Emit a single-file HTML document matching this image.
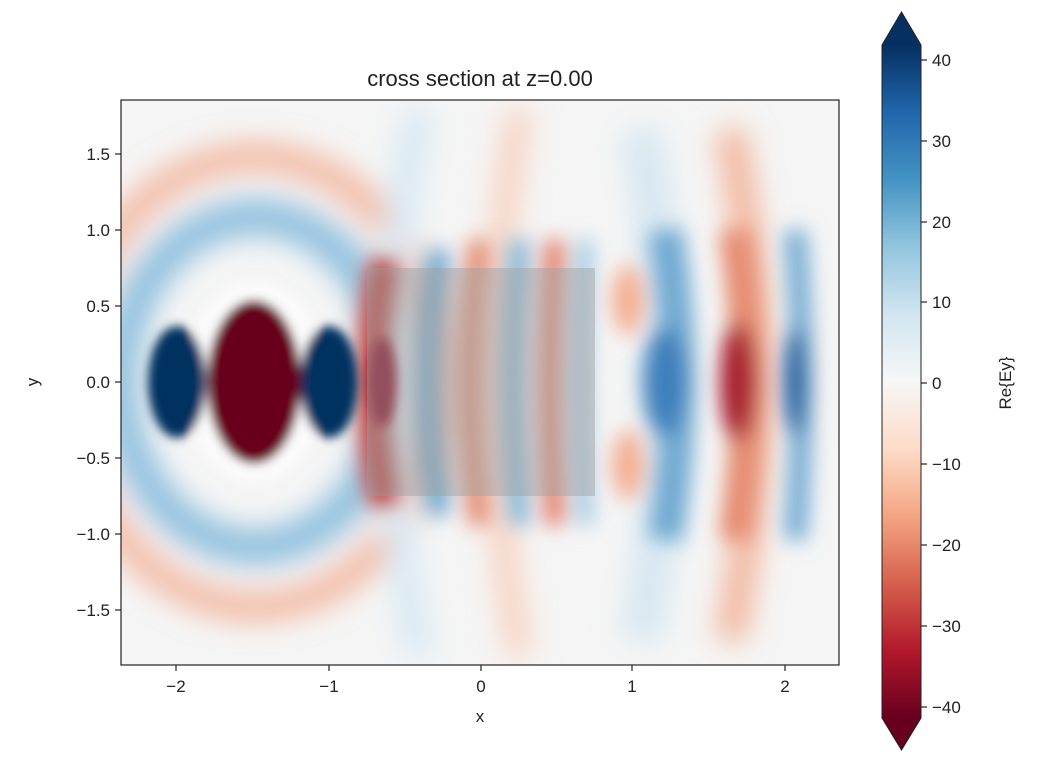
<!DOCTYPE html>
<html><head><meta charset="utf-8"><style>
html,body{margin:0;padding:0;background:#fff;}
svg{display:block;font-family:"Liberation Sans","DejaVu Sans",sans-serif;}
</style></head><body>
<svg width="1040" height="782" viewBox="0 0 1040 782" xmlns="http://www.w3.org/2000/svg">
<defs>
<clipPath id="pc"><rect x="121" y="100" width="718" height="565"/></clipPath>
<filter id="b1" x="-50%" y="-50%" width="200%" height="200%"><feGaussianBlur stdDeviation="5"/></filter>
<filter id="b2" x="-50%" y="-50%" width="200%" height="200%"><feGaussianBlur stdDeviation="10"/></filter>
<filter id="b3" x="-50%" y="-50%" width="200%" height="200%"><feGaussianBlur stdDeviation="14"/></filter>
<linearGradient id="cb" x1="0" y1="1" x2="0" y2="0">
<stop offset="0" stop-color="#67001f"/><stop offset="0.1" stop-color="#b2182b"/><stop offset="0.2" stop-color="#d6604d"/><stop offset="0.3" stop-color="#f4a582"/><stop offset="0.4" stop-color="#fddbc7"/><stop offset="0.5" stop-color="#f7f7f7"/><stop offset="0.6" stop-color="#d1e5f0"/><stop offset="0.7" stop-color="#92c5de"/><stop offset="0.8" stop-color="#4393c3"/><stop offset="0.9" stop-color="#2166ac"/><stop offset="1" stop-color="#053061"/>
</linearGradient>
</defs>
<text x="480" y="86" font-size="22" text-anchor="middle" fill="#222">cross section at z=0.00</text>
<g clip-path="url(#pc)">
<rect x="121" y="100" width="718" height="565" fill="#f5f5f5"/>
<g filter="url(#b3)">
<ellipse cx="255" cy="382" rx="185" ry="225" fill="none" stroke="#f2b096" stroke-width="30" opacity="0.85"/>
<ellipse cx="255" cy="382" rx="135" ry="165" fill="none" stroke="#8fc0de" stroke-width="36"/>
<path d="M420 110 Q360 382 420 655" fill="none" stroke="#d8e9f3" stroke-width="30"/>
<path d="M520 110 Q470 382 520 655" fill="none" stroke="#f8d0bd" stroke-width="25"/>
<path d="M640 130 Q690 382 640 640" fill="none" stroke="#d6e7f1" stroke-width="40"/>
<path d="M730 130 Q780 382 730 640" fill="none" stroke="#f2b49a" stroke-width="30"/>
</g>
<g filter="url(#b2)">
<path d="M385 260 Q360 382 385 505" fill="none" stroke="#c1403a" stroke-width="30"/>
<path d="M440 250 Q415 382 440 515" fill="none" stroke="#6aa8d0" stroke-width="22"/>
<path d="M480 240 Q460 382 480 525" fill="none" stroke="#e08a70" stroke-width="22"/>
<path d="M520 240 Q505 382 520 525" fill="none" stroke="#7fb5d6" stroke-width="20"/>
<path d="M555 240 Q545 382 555 525" fill="none" stroke="#e07b62" stroke-width="20"/>
<path d="M585 240 Q578 382 585 525" fill="none" stroke="#9cc6df" stroke-width="16"/>
<ellipse cx="628" cy="300" rx="16" ry="35" fill="#f4ad92"/>
<ellipse cx="628" cy="465" rx="16" ry="35" fill="#f4ad92"/>
<path d="M665 230 Q690 382 665 540" fill="none" stroke="#6fa9d1" stroke-width="34"/>
<ellipse cx="665" cy="382" rx="22" ry="55" fill="#3d7fbb"/>
<path d="M735 230 Q760 382 735 540" fill="none" stroke="#e58a70" stroke-width="30"/>
<ellipse cx="738" cy="382" rx="18" ry="60" fill="#a51d2d"/>
<path d="M795 230 Q808 382 795 540" fill="none" stroke="#6fa9d1" stroke-width="22"/>
<ellipse cx="795" cy="382" rx="12" ry="55" fill="#225e9e"/>
</g>
<g filter="url(#b1)">
<ellipse cx="255" cy="382" rx="70" ry="100" fill="#fbfbfb"/>
<ellipse cx="177" cy="382" rx="29" ry="56" fill="#053061"/>
<ellipse cx="329" cy="382" rx="29" ry="56" fill="#053061"/>
<ellipse cx="254" cy="382" rx="47" ry="82" fill="#67001f"/>
<ellipse cx="382" cy="382" rx="14" ry="45" fill="#8a0b26"/>
</g>
<rect x="367" y="268" width="228" height="228" fill="#a0a0a0" opacity="0.45"/>
</g>
<rect x="121" y="100" width="718" height="565" fill="none" stroke="#222" stroke-width="1.2"/>
<g stroke="#222" stroke-width="1.2">
<line x1="176" y1="665" x2="176" y2="671"/><line x1="329" y1="665" x2="329" y2="671"/><line x1="481" y1="665" x2="481" y2="671"/><line x1="632" y1="665" x2="632" y2="671"/><line x1="785" y1="665" x2="785" y2="671"/>
<line x1="121" y1="154" x2="115" y2="154"/><line x1="121" y1="230" x2="115" y2="230"/><line x1="121" y1="306" x2="115" y2="306"/><line x1="121" y1="382" x2="115" y2="382"/><line x1="121" y1="458" x2="115" y2="458"/><line x1="121" y1="534" x2="115" y2="534"/><line x1="121" y1="610" x2="115" y2="610"/>
</g>
<g font-size="17" fill="#222" text-anchor="middle">
<text x="176" y="692">−2</text><text x="329" y="692">−1</text><text x="481" y="692">0</text><text x="632" y="692">1</text><text x="785" y="692">2</text>
<text x="480" y="722">x</text>
</g>
<g font-size="17" fill="#222" text-anchor="end">
<text x="110" y="160">1.5</text><text x="110" y="236">1.0</text><text x="110" y="312">0.5</text><text x="110" y="388">0.0</text><text x="110" y="464">−0.5</text><text x="110" y="540">−1.0</text><text x="110" y="616">−1.5</text>
</g>
<text x="38" y="382" font-size="17" fill="#222" text-anchor="middle" transform="rotate(-90 38 382)">y</text>
<rect x="882" y="45" width="39" height="673" fill="url(#cb)"/>
<polygon points="882,45 901.5,12 921,45" fill="#053061"/>
<polygon points="882,718 901.5,750 921,718" fill="#67001f"/>
<polygon points="882,45 901.5,12 921,45 921,718 901.5,750 882,718" fill="none" stroke="#222" stroke-width="1"/>
<g stroke="#222" stroke-width="1.2">
<line x1="921" y1="60" x2="927" y2="60"/><line x1="921" y1="141" x2="927" y2="141"/><line x1="921" y1="222" x2="927" y2="222"/><line x1="921" y1="302" x2="927" y2="302"/><line x1="921" y1="383" x2="927" y2="383"/><line x1="921" y1="464" x2="927" y2="464"/><line x1="921" y1="545" x2="927" y2="545"/><line x1="921" y1="626" x2="927" y2="626"/><line x1="921" y1="707" x2="927" y2="707"/>
</g>
<g font-size="17" fill="#222">
<text x="932" y="66">40</text><text x="932" y="147">30</text><text x="932" y="228">20</text><text x="932" y="308">10</text><text x="932" y="389">0</text><text x="932" y="470">−10</text><text x="932" y="551">−20</text><text x="932" y="632">−30</text><text x="932" y="713">−40</text>
</g>
<text x="1011" y="383" font-size="17" fill="#222" text-anchor="middle" transform="rotate(-90 1011 383)">Re{Ey}</text>
</svg>
</body></html>
